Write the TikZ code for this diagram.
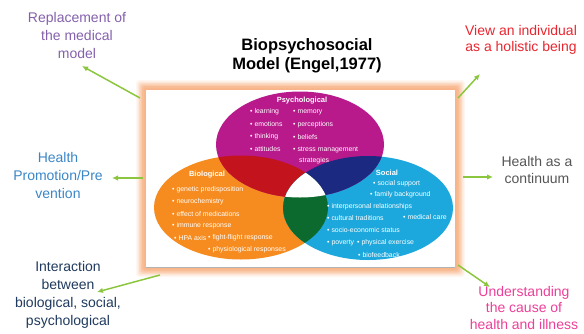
\documentclass[tikz,border=0pt]{standalone}
\usepackage{fontspec}
\setmainfont{Liberation Sans}
\usetikzlibrary{arrows.meta}

\definecolor{psycol}{HTML}{B8198B}
\definecolor{biocol}{HTML}{F68B1F}
\definecolor{soccol}{HTML}{1DA8DD}
\definecolor{pbcol}{HTML}{C3141E}
\definecolor{pscol}{HTML}{1B2A80}
\definecolor{bscol}{HTML}{0C6A2E}
\definecolor{peach}{HTML}{F8B488}
\definecolor{arrowgreen}{HTML}{8CC63F}
\definecolor{lblpurple}{HTML}{8460AC}
\definecolor{lblred}{HTML}{E8262F}
\definecolor{lblblue}{HTML}{3A86C6}
\definecolor{lblgray}{HTML}{555555}
\definecolor{lblnavy}{HTML}{1F3A5E}
\definecolor{lblpink}{HTML}{EC3F98}

\begin{document}
\begin{tikzpicture}[x=1pt,y=-1pt,
  lbl/.style={align=center, inner sep=0pt, font=\fontsize{14}{18}\selectfont},
  titletext/.style={align=center, inner sep=0pt, font=\bfseries\fontsize{16.5}{19}\selectfont},
  item/.style={text=white, inner sep=0pt, anchor=west, font=\fontsize{6.9}{8}\selectfont},
  vhead/.style={text=white, inner sep=0pt, font=\bfseries\fontsize{7.5}{8}\selectfont},
  link/.style={draw=arrowgreen, line width=1.5pt, -{Latex[length=6pt,width=5.5pt]}}
]
\useasboundingbox (0,0) rectangle (584,333);

% soft peach glow round the frame
\foreach \d/\o in {10/0.12, 8.5/0.2, 7/0.3, 5.5/0.42, 4/0.58, 2.5/0.75, 1/0.9}
  \fill[peach, opacity=\o, rounded corners=3pt]
    ({146-\d},{90-\d}) rectangle ({455+\d},{267+\d});

% white frame holding the Venn diagram
\node[fill=white, inner sep=0pt, minimum width=309pt, minimum height=177pt,
      anchor=north west] (frame) at (146,90) {};
\draw[gray!60, line width=0.8pt] (frame.south west) -- (frame.south east);

% the three circles
\def\psyshape{(300,144.5) ellipse [x radius=84pt, y radius=53pt]}
\def\bioshape{(241,207.5) ellipse [x radius=87pt, y radius=52pt]}
\def\socshape{(368,208) ellipse [x radius=85pt, y radius=52pt]}

\fill[biocol] \bioshape;
\fill[soccol] \socshape;
\fill[psycol] \psyshape;

\begin{scope}
  \clip \psyshape;
  \fill[pbcol] \bioshape;
  \fill[pscol] \socshape;
\end{scope}
\begin{scope}
  \clip \bioshape;
  \fill[bscol] \socshape;
\end{scope}
\begin{scope}
  \clip \psyshape;
  \clip \bioshape;
  \fill[white] \socshape;
\end{scope}

% Psychological
\node[vhead] (psyhead) at (302,100.5) {Psychological};
\node[item] (p1) at (250,112) {• learning};
\node[item] (p2) at (250,124.5) {• emotions};
\node[item] (p3) at (250,137) {• thinking};
\node[item] (p4) at (250,149.5) {• attitudes};
\node[item] (p5) at (293,112) {• memory};
\node[item] (p6) at (293,124.5) {• perceptions};
\node[item] (p7) at (293,137) {• beliefs};
\node[item] (p8) at (293,149.5) {• stress management};
\node[item] (p9) at (299,161) {strategies};

% Biological
\node[vhead] (biohead) at (207,175) {Biological};
\node[item] (b1) at (172,190) {• genetic predisposition};
\node[item] (b2) at (172,202) {• neurochemistry};
\node[item] (b3) at (172,214) {• effect of medications};
\node[item] (b4) at (172,226) {• immune response};
\node[item] (b5) at (174,238) {• HPA axis};
\node[item] (b6) at (208,238) {• fight-flight response};
\node[item] (b7) at (208,250) {• physiological responses};

% Social
\node[vhead] (sochead) at (387,173) {Social};
\node[item] (s1) at (373,184) {• social support};
\node[item] (s2) at (370,195) {• family background};
\node[item] (s3) at (327,207) {• interpersonal relationships};
\node[item] (s4) at (327,218.5) {• cultural traditions};
\node[item] (s5) at (403,217) {• medical care};
\node[item] (s6) at (327,230.5) {• socio-economic status};
\node[item] (s7) at (327,243) {• poverty};
\node[item] (s8) at (357,243) {• physical exercise};
\node[item] (s9) at (358,255) {• biofeedback};

% heading above the frame
\node[titletext] (title) at (307,55.5) {Biopsychosocial\\Model (Engel,1977)};

% surrounding statements
\node[lbl, text=lblpurple] (repl) at (77,35) {Replacement of\\the medical\\model};
\node[lbl, text=lblred, font=\fontsize{14}{16.5}\selectfont] (holis) at (521,40) {View an individual\\as a holistic being};
\node[lbl, text=lblblue] (promo) at (58,175) {Health\\Promotion/Pre\\vention};
\node[lbl, text=lblgray, font=\fontsize{14}{16.5}\selectfont] (cont) at (537,170) {Health as a\\continuum};
\node[lbl, text=lblnavy] (inter) at (68,295) {Interaction\\between\\biological, social,\\psychological};
\node[lbl, text=lblpink, font=\fontsize{14}{16.5}\selectfont] (cause) at (524,307.5) {Understanding\\the cause of\\health and illness};

% arrow ends
\coordinate (t1) at (140,98);   \coordinate (h1) at (82,66);
\coordinate (t2) at (458,98);   \coordinate (h2) at (480,74);
\coordinate (t3) at (143,178);  \coordinate (h3) at (112,178);
\coordinate (t4) at (463,177);  \coordinate (h4) at (493,177);
\coordinate (t5) at (160,275);  \coordinate (h5) at (97,292);
\coordinate (t6) at (458,265);  \coordinate (h6) at (490,287);

\draw[link] (t1) -- (h1);
\draw[link] (t2) -- (h2);
\draw[link] (t3) -- (h3);
\draw[link] (t4) -- (h4);
\draw[link] (t5) -- (h5);
\draw[link] (t6) -- (h6);
\end{tikzpicture}
\end{document}
